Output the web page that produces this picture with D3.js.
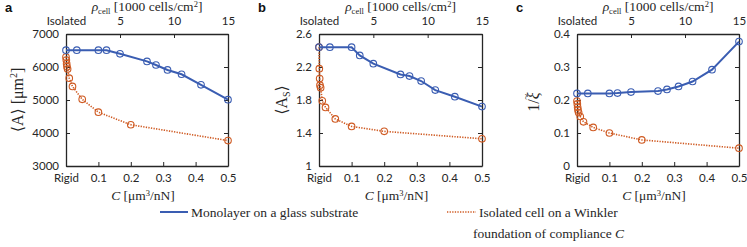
<!DOCTYPE html>
<html><head><meta charset="utf-8">
<script src="https://cdn.jsdelivr.net/npm/d3@7"></script>
<style>
body{margin:0;background:#fff;}
svg{display:block;}
.tick text{font-family:Lato,"Open Sans",sans-serif;font-size:11.5px;fill:#262626;}
.serif{font-family:"Liberation Serif","DejaVu Serif",serif;fill:#262626;}
</style></head>
<body>
<svg id="chart" width="747" height="247"></svg>
<script>
// ---- data ----
const density = [0, 1, 3, 3.75, 5, 7.5, 8.33, 9.4, 10.7, 12.5, 15];
const compliance = [0, 0.001, 0.002, 0.003, 0.005, 0.01, 0.02, 0.05, 0.1, 0.2, 0.5];
const areaMonolayer = [6510, 6510, 6510, 6510, 6400, 6170, 6060, 5910, 5780, 5460, 5010];
const areaIsolated = [6300, 6210, 6100, 6010, 5940, 5660, 5410, 5020, 4630, 4250, 3770];
const shapeMonolayer = [2.44, 2.44, 2.44, 2.34, 2.24, 2.11, 2.09, 2.03, 1.92, 1.84, 1.72];
const shapeIsolated = [2.44, 2.18, 2.06, 1.98, 1.95, 1.79, 1.71, 1.57, 1.48, 1.42, 1.33];
const xiMonolayer = [0.22, 0.22, 0.22, 0.221, 0.224, 0.227, 0.232, 0.241, 0.256, 0.292, 0.377];
const xiIsolated = [0.197, 0.188, 0.178, 0.17, 0.162, 0.15, 0.134, 0.117, 0.1, 0.079, 0.054];
const densityTicks = [0, 5, 10, 15];
const complianceTicks = [0, 0.1, 0.2, 0.3, 0.4, 0.5];
const areaTicks = [3000, 4000, 5000, 6000, 7000];
const shapeTicks = [1, 1.4, 1.8, 2.2, 2.6];
const xiTicks = [0, 0.1, 0.2, 0.3, 0.4];
const panelLetters = ["a", "b", "c"];
const legendLabels = ["Monolayer on a glass substrate", "Isolated cell on a Winkler", "foundation of compliance "];

const BLUE = "#3a5db2", ORANGE = "#cf5a22", AX = "#262626";
const svg = d3.select("#chart");
const plotTop = 34, plotBottom = 166;

const panels = [
  {letter: panelLetters[0], left: 66, right: 228, ticks: areaTicks, mono: areaMonolayer, iso: areaIsolated, fmt: d3.format("d"), yl: "a"},
  {letter: panelLetters[1], left: 319, right: 482, ticks: shapeTicks, mono: shapeMonolayer, iso: shapeIsolated, fmt: d => d3.format("")(d), yl: "b"},
  {letter: panelLetters[2], left: 577, right: 739, ticks: xiTicks, mono: xiMonolayer, iso: xiIsolated, fmt: d => d3.format("")(d), yl: "c"}
];

panels.forEach(p => {
  const g = svg.append("g");
  const xD = d3.scaleLinear().domain([0, 15]).range([p.left, p.right]);
  const xC = d3.scaleLinear().domain([0, 0.5]).range([p.left, p.right]);
  const y = d3.scaleLinear().domain([p.ticks[0], p.ticks[p.ticks.length - 1]]).range([plotBottom, plotTop]);

  const ax = (sel) => { sel.select(".domain").attr("stroke", AX).attr("stroke-width", 1.3);
    sel.selectAll(".tick line").attr("stroke", AX).attr("stroke-width", 1); };
  g.append("g").attr("transform", `translate(0,${plotBottom})`)
    .call(d3.axisBottom(xC).tickValues(complianceTicks).tickSizeInner(-4).tickSizeOuter(0).tickPadding(8)
      .tickFormat(d => d === 0 ? "Rigid" : d3.format(".1f")(d))).call(ax);
  g.append("g").attr("transform", `translate(0,${plotTop})`)
    .call(d3.axisTop(xD).tickValues(densityTicks).tickSizeInner(-4).tickSizeOuter(0).tickPadding(9.5)
      .tickFormat(d => d === 0 ? "Isolated" : d)).call(ax);
  g.append("g").attr("transform", `translate(${p.left},0)`)
    .call(d3.axisLeft(y).tickValues(p.ticks).tickSizeInner(-4).tickSizeOuter(0).tickPadding(7).tickFormat(p.fmt)).call(ax);
  g.append("g").attr("transform", `translate(${p.right},0)`)
    .call(d3.axisRight(y).tickValues(p.ticks).tickSizeInner(-4).tickSizeOuter(0).tickFormat("")).call(ax);

  const lineMono = d3.line().x((d, i) => xD(density[i])).y(d => y(d));
  const lineIso = d3.line().x((d, i) => xC(compliance[i])).y(d => y(d));
  g.append("path").datum(p.iso).attr("d", lineIso).attr("fill", "none").attr("stroke", ORANGE)
    .attr("stroke-width", 1.6).attr("stroke-dasharray", "1.3,1.3");
  g.selectAll(".ciso").data(p.iso).join("circle").attr("cx", (d, i) => xC(compliance[i])).attr("cy", d => y(d))
    .attr("r", 3.3).attr("fill", "none").attr("stroke", ORANGE).attr("stroke-width", 1.1);
  g.append("path").datum(p.mono).attr("d", lineMono).attr("fill", "none").attr("stroke", BLUE).attr("stroke-width", 2);
  g.selectAll(".cmono").data(p.mono).join("circle").attr("cx", (d, i) => xD(density[i])).attr("cy", d => y(d))
    .attr("r", 3.3).attr("fill", "none").attr("stroke", BLUE).attr("stroke-width", 1.1);

  const cx = (p.left + p.right) / 2;
  const t = g.append("text").attr("class", "serif").attr("x", cx).attr("y", 11).attr("text-anchor", "middle").attr("font-size", 13.5);
  t.append("tspan").attr("font-style", "italic").text("ρ");
  t.append("tspan").attr("font-size", 8.5).attr("dy", 3).text("cell");
  t.append("tspan").attr("dy", -3).text(" [1000 cells/cm");
  t.append("tspan").attr("font-size", 8.5).attr("dy", -4.5).text("2");
  t.append("tspan").attr("dy", 4.5).text("]");
  const b = g.append("text").attr("class", "serif").attr("x", cx - 4).attr("y", 200).attr("text-anchor", "middle").attr("font-size", 13.5);
  b.append("tspan").attr("font-style", "italic").text("C");
  b.append("tspan").text("  [μm");
  b.append("tspan").attr("font-size", 8.5).attr("dy", -4.5).text("3");
  b.append("tspan").attr("dy", 4.5).text("/nN]");
  g.append("text").attr("x", p.left - 61).attr("y", 12).attr("font-family", "Liberation Sans, Arial, sans-serif")
    .attr("font-weight", "bold").attr("font-size", 13).attr("fill", "#111").text(p.letter);
  const cy = (plotTop + plotBottom) / 2;
  if (p.yl === "a") {
    const yl = g.append("text").attr("class", "serif").attr("transform", `translate(${23},${cy}) rotate(-90)`)
      .attr("text-anchor", "middle").attr("font-size", 16);
    yl.append("tspan").text("⟨A⟩ [μm");
    yl.append("tspan").attr("font-size", 10).attr("dy", -6).text("2");
    yl.append("tspan").attr("dy", 6).text("]");
  } else if (p.yl === "b") {
    const yl = g.append("text").attr("class", "serif").attr("transform", `translate(${p.left - 32},${cy}) rotate(-90)`)
      .attr("text-anchor", "middle").attr("font-size", 16);
    yl.append("tspan").text("⟨A");
    yl.append("tspan").attr("font-size", 10).attr("dy", 3).text("S");
    yl.append("tspan").attr("dy", -3).text("⟩");
  } else {
    const yl = g.append("text").attr("class", "serif").attr("transform", `translate(${p.left - 38},${cy + 2}) rotate(-90)`)
      .attr("text-anchor", "middle").attr("font-size", 16);
    yl.append("tspan").text("1/");
    yl.append("tspan").attr("font-style", "italic").text("ξ");
    yl.append("tspan").attr("font-size", 11).attr("dx", -7.5).attr("dy", -10).text("~");
  }
});

const lg = svg.append("g");
lg.append("line").attr("x1", 160).attr("x2", 188).attr("y1", 212).attr("y2", 212).attr("stroke", BLUE).attr("stroke-width", 2);
lg.append("text").attr("class", "serif").attr("x", 191).attr("y", 216.5).attr("font-size", 13.5).text(legendLabels[0]);
lg.append("line").attr("x1", 447).attr("x2", 476).attr("y1", 212).attr("y2", 212).attr("stroke", ORANGE)
  .attr("stroke-width", 1.6).attr("stroke-dasharray", "1.3,1.3");
lg.append("text").attr("class", "serif").attr("x", 479).attr("y", 216.5).attr("font-size", 13.5).text(legendLabels[1]);
const l2 = lg.append("text").attr("class", "serif").attr("x", 473).attr("y", 237.5).attr("font-size", 13.5);
l2.append("tspan").text(legendLabels[2]);
l2.append("tspan").attr("font-style", "italic").text("C");
</script>
</body></html>
